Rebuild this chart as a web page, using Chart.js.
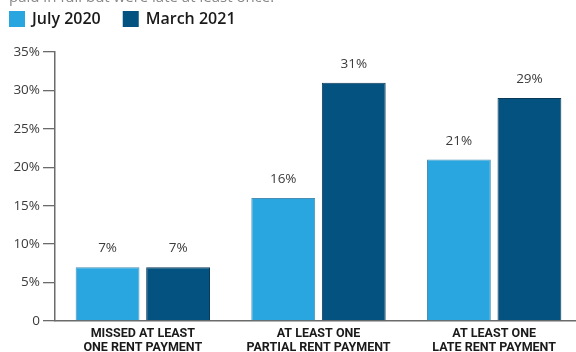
<!DOCTYPE html>
<html>
<head>
<meta charset="utf-8">
<script src="https://cdn.jsdelivr.net/npm/chart.js@4/dist/chart.umd.min.js"></script>
<style>
  html, body { margin: 0; padding: 0; background: #fff; overflow: hidden; }
  #wrap { position: relative; width: 582px; height: 352px; }
</style>
</head>
<body>
<div id="wrap"><canvas id="c" width="582" height="352"></canvas></div>
<script>
// Share of renters reporting each payment problem
const categories = [
  ['MISSED AT LEAST', 'ONE RENT PAYMENT'],
  ['AT LEAST ONE', 'PARTIAL RENT PAYMENT'],
  ['AT LEAST ONE', 'LATE RENT PAYMENT']
];
const seriesNames = ['July 2020', 'March 2021'];
const july2020 = [7, 16, 21];
const march2021 = [7, 31, 29];
const yTicks = [0, 5, 10, 15, 20, 25, 30, 35];
const introLine = 'paid in full but were late at least once.';

const LIGHT = '#29a6df';
const DARK = '#03527f';
const AXIS = '#6b6b6b';
const TEXT = '#3b3b3b';

// Legend and the tail of the intro sentence, drawn on the canvas
const headerPlugin = {
  id: 'header',
  afterDraw(chart) {
    const ctx = chart.ctx;
    ctx.save();
    ctx.fillStyle = '#888';
    ctx.font = '15px "Open Sans"';
    ctx.textBaseline = 'alphabetic';
    ctx.textAlign = 'left';
    ctx.fillText(introLine, 9, 1.5);

    let x = 9;
    ctx.font = '600 16px "Open Sans"';
    ctx.textBaseline = 'middle';
    chart.data.datasets.forEach(ds => {
      ctx.fillStyle = ds.backgroundColor;
      ctx.fillRect(x, 11, 16, 16);
      ctx.fillStyle = '#1a1a1a';
      ctx.fillText(ds.label, x + 23, 19);
      x += 23 + ctx.measureText(ds.label).width + 22;
    });
    ctx.restore();
  }
};

// Value labels above each bar
const valueLabels = {
  id: 'valueLabels',
  afterDatasetsDraw(chart) {
    const ctx = chart.ctx;
    ctx.save();
    ctx.font = '13.5px "Open Sans"';
    ctx.fillStyle = TEXT;
    ctx.textAlign = 'center';
    ctx.textBaseline = 'bottom';
    chart.data.datasets.forEach((ds, i) => {
      chart.getDatasetMeta(i).data.forEach((bar, j) => {
        ctx.fillText(ds.data[j] + '%', bar.x, bar.y - 12);
      });
    });
    ctx.restore();
  }
};

new Chart(document.getElementById('c'), {
  type: 'bar',
  data: {
    labels: categories,
    datasets: [
      { label: seriesNames[0], data: july2020, backgroundColor: LIGHT, borderColor: '#4a8fb3', borderWidth: 1 },
      { label: seriesNames[1], data: march2021, backgroundColor: DARK, borderColor: '#0b3a58', borderWidth: 1 }
    ]
  },
  options: {
    responsive: false,
    animation: false,
    devicePixelRatio: 1,
    categoryPercentage: 0.803,
    barPercentage: 0.905,
    layout: { padding: { top: 52, left: 0, right: 0, bottom: 0 } },
    plugins: {
      legend: { display: false },
      tooltip: { enabled: false }
    },
    scales: {
      y: {
        min: 0,
        max: 35,
        afterBuildTicks(scale) { scale.ticks = yTicks.map(v => ({ value: v })); },
        afterFit(scale) { scale.width = 55; },
        ticks: {
          callback: v => (v === 0 ? '0' : v + '%'),
          font: { family: 'Open Sans', size: 13.5 },
          color: TEXT,
          padding: 3
        },
        grid: { drawOnChartArea: false, drawTicks: true, tickLength: 12, color: AXIS, lineWidth: 1.3 },
        border: { display: true, color: AXIS, width: 1.5 }
      },
      x: {
        afterFit(scale) { scale.height = 31; },
        ticks: {
          font: { family: 'Roboto', size: 12.5, weight: 'bold', lineHeight: 1.12 },
          color: '#1a1a1a',
          padding: 6,
          maxRotation: 0,
          autoSkip: false
        },
        grid: { drawOnChartArea: false, drawTicks: false, color: 'transparent' },
        border: { display: true, color: AXIS, width: 1.5 }
      }
    }
  },
  plugins: [headerPlugin, valueLabels]
});
</script>
</body>
</html>
